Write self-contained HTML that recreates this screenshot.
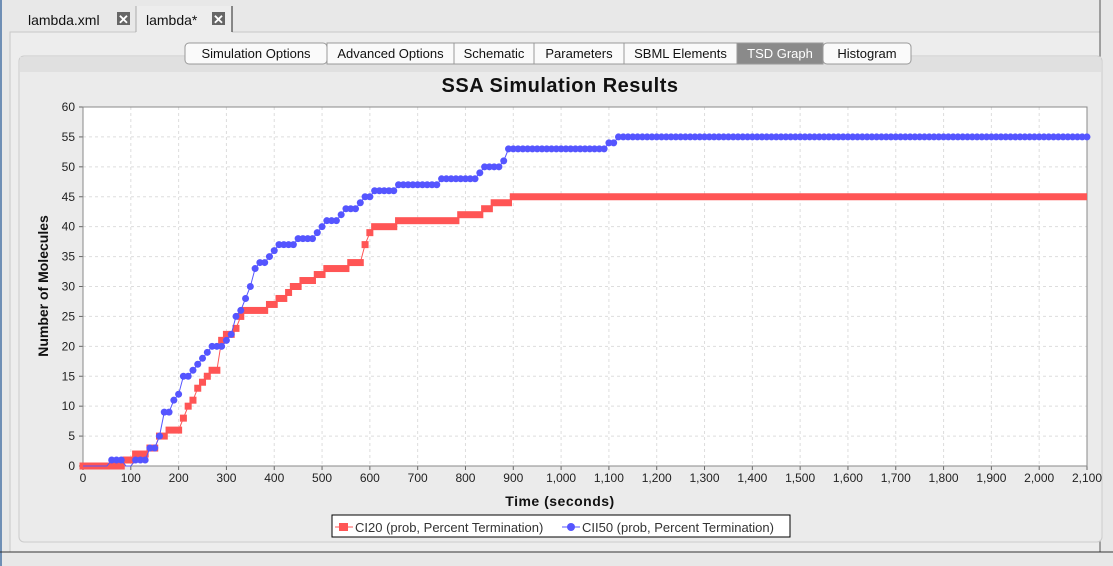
<!DOCTYPE html>
<html><head><meta charset="utf-8"><style>
body{margin:0;width:1113px;height:566px;overflow:hidden;background:#e8e8e8;font-family:"Liberation Sans",sans-serif}
svg{display:block}
text{font-family:"Liberation Sans",sans-serif}
</style></head><body>
<svg id="c" width="1113" height="566" xmlns="http://www.w3.org/2000/svg">
<rect x="0" y="0" width="1113" height="566" fill="#e8e8e8"/>
<line x1="1" y1="0" x2="1" y2="566" stroke="#6f8fb5" stroke-width="2"/>
<rect x="10" y="32" width="1090" height="520" fill="#ededed" stroke="#c8c8c8"/>
<line x1="1100" y1="0" x2="1100" y2="552" stroke="#555"/>
<g>
<text x="28" y="25" font-size="14" fill="#111">lambda.xml</text>
<rect x="117" y="12" width="13" height="13" fill="#666"/><text x="118" y="24" font-size="13" fill="#fff" font-weight="bold">✕</text>
</g>
<g>
<rect x="136" y="6" width="96" height="27" fill="#ededed"/>
<line x1="136" y1="6" x2="136" y2="32" stroke="#aaa"/><line x1="232" y1="6" x2="232" y2="32" stroke="#222"/>
<text x="146" y="25" font-size="14" fill="#111">lambda*</text>
<rect x="212" y="12" width="13" height="13" fill="#666"/><text x="213" y="24" font-size="13" fill="#fff" font-weight="bold">✕</text>
</g>
<rect x="19" y="56" width="1083" height="486" rx="5" fill="#ebebeb" stroke="#ccc"/>
<rect x="20" y="57" width="1081" height="15" fill="#e0e0e0"/>
<g id="tabs"></g>
<text x="560" y="92" font-size="20" font-weight="bold" text-anchor="middle" fill="#111" letter-spacing="0.5">SSA Simulation Results</text>
<g id="plot"></g>
<text x="560" y="506" font-size="14" font-weight="bold" text-anchor="middle" fill="#111" letter-spacing="0.5">Time (seconds)</text>
<text transform="translate(48,286) rotate(-90)" font-size="14" font-weight="bold" text-anchor="middle" fill="#111">Number of Molecules</text>
<g>
<rect x="332" y="515" width="458" height="22" fill="#fff" stroke="#000"/>
<g>
<line x1="335" y1="527" x2="353" y2="527" stroke="#ff5555"/><rect x="339" y="523" width="9" height="8" fill="#ff5555"/>
<text x="355" y="532" font-size="13" fill="#333">CI20 (prob, Percent Termination)</text></g>
<g>
<line x1="562" y1="527" x2="580" y2="527" stroke="#5555ff"/><circle cx="571" cy="527" r="4" fill="#5555ff"/>
<text x="582" y="532" font-size="13" fill="#333">CII50 (prob, Percent Termination)</text></g>
</g>
<line x1="0" y1="552" x2="1113" y2="552" stroke="#333"/>
</svg>
<script>
const tabNames=["Simulation Options","Advanced Options","Schematic","Parameters","SBML Elements","TSD Graph","Histogram"];
const tabWidths=[142,127,80,90,113,86,88];
const xTicks=[0,100,200,300,400,500,600,700,800,900,1000,1100,1200,1300,1400,1500,1600,1700,1800,1900,2000,2100];
const yTicks=[0,5,10,15,20,25,30,35,40,45,50,55,60];
const redTimes=[0,90,110,140,160,180,210,220,230,240,250,260,270,290,300,320,330,340,390,410,430,440,460,490,510,560,590,600,610,660,790,840,860,900,2100];
const redValues=[0,1,2,3,5,6,8,10,11,13,14,15,16,21,22,23,25,26,27,28,29,30,31,32,33,34,37,39,40,41,42,43,44,45,45];
const blueTimes=[0,60,90,110,140,160,170,190,200,210,230,240,250,260,270,300,310,320,330,340,350,360,370,390,400,410,450,490,500,510,540,550,580,590,610,660,750,830,840,880,890,1100,1120,2100];
const blueValues=[0,1,0,1,3,5,9,11,12,15,16,17,18,19,20,21,22,25,26,28,30,33,34,35,36,37,38,39,40,41,42,43,44,45,46,47,48,49,50,51,53,54,55,55];
const NS="http://www.w3.org/2000/svg";
const X0=83,X1=1087,Y0=466,Y1=107;
const xs=t=>X0+(t/2100)*(X1-X0);
const ys=v=>Y0-(v/60)*(Y0-Y1);
function mk(tag,attrs,parent){const e=document.createElementNS(NS,tag);for(const k in attrs)e.setAttribute(k,attrs[k]);parent.appendChild(e);return e;}
const tg=document.getElementById('tabs');
let tx=185;
tabNames.forEach((n,i)=>{
 const g=mk('g',{},tg);
 
 
 const sel=n==="TSD Graph";
 mk('rect',{x:tx,y:43,width:tabWidths[i],height:21,rx:i===0||i===tabNames.length-1?4:0,fill:sel?'#8a8a8a':'#fafafa',stroke:'#999'},g);
 const t=mk('text',{x:tx+tabWidths[i]/2,y:58,'font-size':13,'text-anchor':'middle',fill:sel?'#fff':'#111'},g);
 t.textContent=n; tx+=tabWidths[i];
});
const P=document.getElementById('plot');
mk('rect',{x:X0,y:Y1,width:X1-X0,height:Y0-Y1,fill:'#fff'},P);
xTicks.forEach(v=>{
 const l=mk('line',{x1:xs(v),x2:xs(v),y1:Y1,y2:Y0,stroke:'#ddd','stroke-dasharray':'3,3'},P);
 
 
 mk('line',{x1:xs(v),x2:xs(v),y1:Y0,y2:Y0+4,stroke:'#666'},P);
 const t=mk('text',{x:xs(v),y:Y0+16,'font-size':12,'text-anchor':'middle',fill:'#222'},P);
 
 
 t.textContent=v.toLocaleString('en-US');
});
yTicks.forEach(v=>{
 const l=mk('line',{x1:X0,x2:X1,y1:ys(v),y2:ys(v),stroke:'#ddd','stroke-dasharray':'3,3'},P);
 
 
 mk('line',{x1:X0-4,x2:X0,y1:ys(v),y2:ys(v),stroke:'#666'},P);
 const t=mk('text',{x:X0-8,y:ys(v)+4,'font-size':12,'text-anchor':'end',fill:'#222'},P);
 
 
 t.textContent=v;
});
mk('rect',{x:X0,y:Y1,width:X1-X0,height:Y0-Y1,fill:'none',stroke:'#888'},P);
const rg=mk('g',{},P);


let rp='';
for(let i=0;i<redTimes.length-1;i++){
 rp+=(i?'L':'M')+xs(redTimes[i])+','+ys(redValues[i]);
 rp+='L'+xs(Math.max(redTimes[i],redTimes[i+1]-10))+','+ys(redValues[i]);
}
mk('path',{d:rp,fill:'none',stroke:'#ff5555','stroke-width':1},rg);
for(let i=0;i<redTimes.length-1;i++){
 const last=i===redTimes.length-2;
 const a=xs(redTimes[i]),b=xs(last?redTimes[i+1]:Math.max(redTimes[i],redTimes[i+1]-10));
 const r=mk('rect',{x:a-3.5,y:ys(redValues[i])-3.5,width:Math.min(b+3.5,X1)-(a-3.5),height:7,fill:'#ff5555'},rg);
 
 
}
const bg=mk('g',{},P);


let bp='';
for(let i=0;i<blueTimes.length-1;i++){
 bp+=(i?'L':'M')+xs(blueTimes[i])+','+ys(blueValues[i]);
 bp+='L'+xs(Math.max(blueTimes[i],blueTimes[i+1]-10))+','+ys(blueValues[i]);
}
mk('path',{d:bp,fill:'none',stroke:'#5555ff','stroke-width':1},bg);
for(let i=0;i<blueTimes.length-1;i++){
 const end=i===blueTimes.length-2?blueTimes[i+1]:blueTimes[i+1]-10;
 for(let t=blueTimes[i];t<=end;t+=10){
  if(blueValues[i]===0)continue;
  const c=mk('circle',{cx:xs(t),cy:ys(blueValues[i]),r:3.5,fill:'#5555ff'},bg);
  
  
 }
}
</script>
</body></html>
